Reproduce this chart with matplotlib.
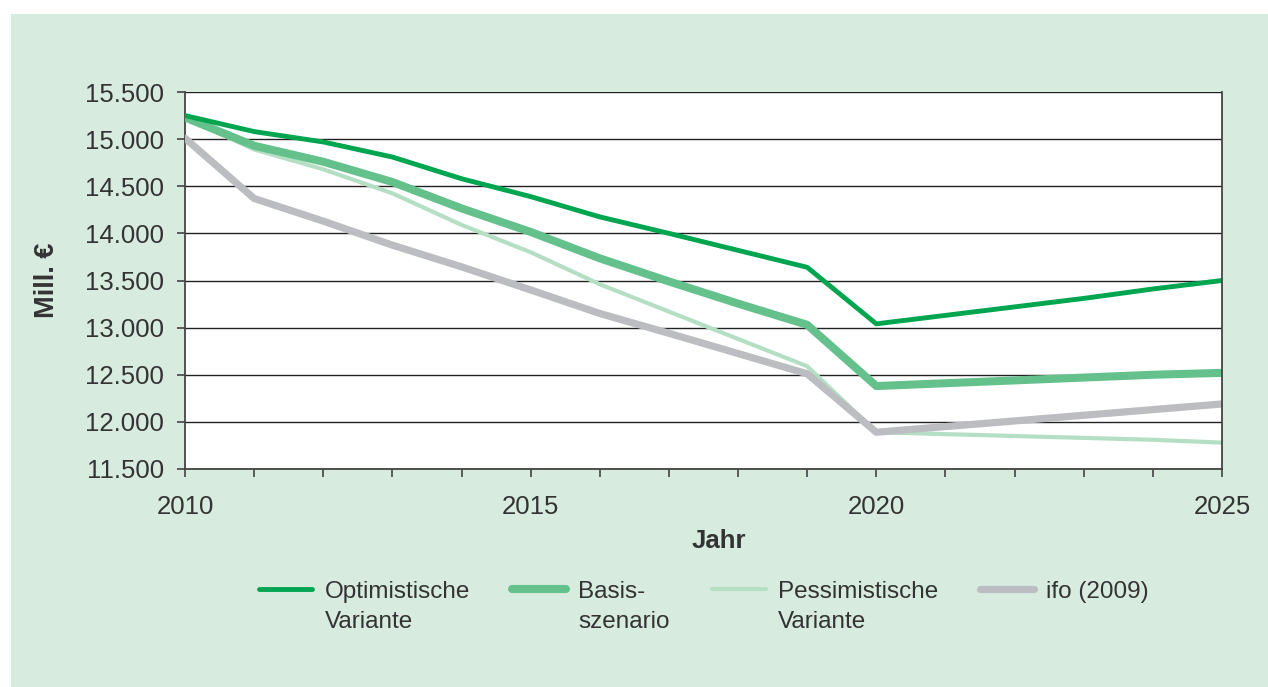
import numpy as np
import matplotlib
matplotlib.use("Agg")
import matplotlib.pyplot as plt
from matplotlib.patches import Rectangle
from matplotlib.ticker import FuncFormatter, MultipleLocator

plt.rcParams['font.family'] = ['Liberation Sans', 'DejaVu Sans']

# Daten (Mill. €)
jahre = np.arange(2010, 2026)
optimistisch = [15250, 15080, 14970, 14810, 14580, 14390, 14175, 14000, 13820, 13640,
                13040, 13130, 13220, 13310, 13410, 13500]
basis = [15230, 14930, 14760, 14545, 14265, 14015, 13735, 13490, 13255, 13030,
         12380, 12410, 12440, 12470, 12500, 12520]
pessimistisch = [15230, 14890, 14680, 14425, 14090, 13800, 13460, 13170, 12880, 12590,
                 11890, 11870, 11850, 11830, 11810, 11780]
ifo = [15010, 14370, 14130, 13875, 13645, 13400, 13150, 12940, 12725, 12510,
       11890, 11950, 12010, 12070, 12130, 12190]

labels = ['Optimistische\nVariante', 'Basis-\nszenario', 'Pessimistische\nVariante', 'ifo (2009)']

BG = '#d7ebde'
TXT = '#333333'
FS = 18.5

fig = plt.figure(figsize=(12.68, 6.87), dpi=100)
fig.patch.set_facecolor('white')
fig.add_artist(Rectangle((11 / 1268, 0), 1, 1 - 14 / 687, transform=fig.transFigure,
                         facecolor=BG, edgecolor='none', zorder=-10))

ax = fig.add_axes([185 / 1268, 1 - 469 / 687, 1037 / 1268, 377 / 687])
ax.set_facecolor('white')

l3, = ax.plot(jahre, pessimistisch, color='#b5dfc4', lw=3.0, solid_capstyle='round', zorder=3)
l4, = ax.plot(jahre, ifo, color='#bcbdc1', lw=5.2, solid_capstyle='round', zorder=4)
l2, = ax.plot(jahre, basis, color='#64c18c', lw=5.8, solid_capstyle='round', zorder=5)
l1, = ax.plot(jahre, optimistisch, color='#00a54f', lw=3.5, solid_capstyle='round', zorder=6)

ax.set_xlim(2010, 2025)
ax.set_ylim(11500, 15500)
ax.set_yticks(np.arange(11500, 15501, 500))
ax.yaxis.set_major_formatter(FuncFormatter(lambda v, p: f'{int(v):,}'.replace(',', '.')))
ax.xaxis.set_major_locator(MultipleLocator(5))
ax.xaxis.set_minor_locator(MultipleLocator(1))
ax.grid(axis='y', color='#222222', lw=1.0, zorder=1)

for s in ['top', 'right']:
    ax.spines[s].set_visible(False)
for s in ['left', 'bottom']:
    ax.spines[s].set_color('#444444')
    ax.spines[s].set_linewidth(1.3)
ax.plot([1, 1], [0, 1], transform=ax.transAxes, color='#444444', lw=1.3, clip_on=False, zorder=7)

ax.tick_params(axis='both', which='both', direction='out', length=6, width=1.2, color='#444444',
               labelsize=FS, labelcolor=TXT)
ax.tick_params(axis='y', pad=9)
ax.tick_params(axis='x', pad=13)

ax.set_xlabel('Jahr', fontsize=FS, fontweight='bold', color=TXT)
ax.xaxis.set_label_coords(0.515, -0.16)
ax.set_ylabel('Mill. €', fontsize=19.5, fontweight='bold', color=TXT)
ax.yaxis.set_label_coords(-0.121, 0.5)

leg = fig.legend([l1, l2, l3, l4], labels, loc='upper left', bbox_to_anchor=(237 / 1268, 1 - 559 / 687),
                 ncol=4, frameon=False, fontsize=17.5, handlelength=2.2, handletextpad=0.5,
                 columnspacing=1.75, labelcolor=TXT)
for h in leg.legend_handles:
    h.set_solid_capstyle('round')
for t in leg.get_texts():
    t.set_linespacing(1.5)
# Linien auf Höhe der ersten Textzeile
leg._legend_handle_box.align = 'top'
for col in leg._legend_handle_box.get_children():
    for row in col.get_children():
        row.align = 'top'

fig.savefig('out.png', dpi=100, facecolor=fig.get_facecolor())
